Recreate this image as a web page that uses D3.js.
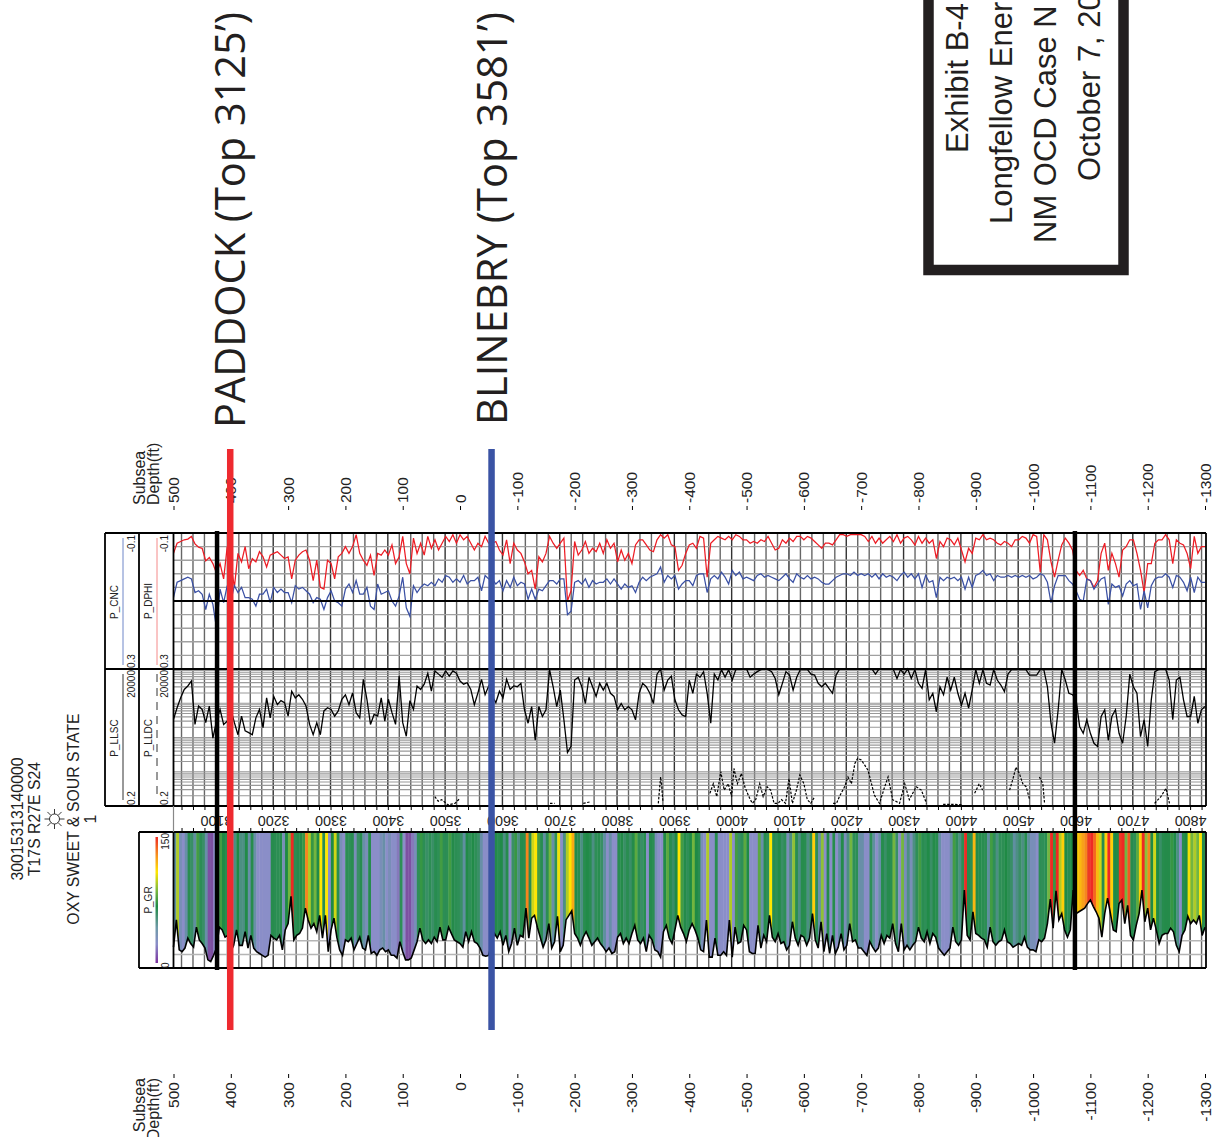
<!DOCTYPE html>
<html>
<head>
<meta charset="utf-8">
<script src="https://cdn.jsdelivr.net/npm/d3@7"></script>
<style>
body { margin: 0; background: #fff; }
text { font-family: "Liberation Sans", Arial, sans-serif; fill: #222; }
</style>
</head>
<body>
<div id="chart"></div>
<script>
// well datum and sampling of the curves, in feet
var kellyBushing = 3526;
var firstDepth = 3026;
var grStep = 5;
var logStep = 6.25;

var subseaTicks = [500, 400, 300, 200, 100, 0, -100, -200, -300, -400, -500, -600, -700, -800, -900, -1000, -1100, -1200, -1300];
var tops = [{ name: "PADDOCK (Top 3125’)", depth: 3125, color: "#ee2a2f" }, { name: "BLINEBRY (Top 3581’)", depth: 3581, color: "#3a53a4" }];
var wellMarkers = [3102, 4599];
var wellInfo = ["30015313140000", "T17S R27E S24", "OXY SWEET & SOUR STATE", "1"];
var exhibitLines = ["Exhibit B-4", "Longfellow Ener", "NM OCD Case N", "October 7, 20"];

var grValues = [
  23,53,20,18,22,33,27,23,45,31,27,22,9,7,14,22,45,42,34,36,
  18,25,42,25,25,40,22,36,22,18,16,14,12,14,36,33,31,36,20,42,
  49,79,31,36,38,44,66,53,44,49,40,58,33,58,18,42,55,34,20,14,
  31,29,33,20,27,34,22,20,36,16,18,14,20,22,18,20,14,14,11,29,
  18,9,9,11,20,29,44,31,27,31,27,34,29,45,31,31,45,38,31,29,
  27,23,40,29,40,29,27,22,14,13,14,27,38,33,40,25,36,18,27,44,
  25,36,34,66,33,55,58,45,34,23,31,49,22,29,57,18,25,53,58,63,
  38,33,25,34,40,33,25,29,33,27,23,18,22,16,18,34,38,27,33,27,
  38,47,31,27,33,18,36,31,20,18,12,40,47,33,27,42,58,45,38,29,
  42,49,42,33,20,18,53,12,12,33,14,14,18,14,53,12,45,27,29,47,
  42,18,16,16,47,22,36,29,58,34,29,38,27,29,20,25,51,33,25,36,
  34,25,33,60,31,22,51,18,38,16,36,16,23,38,20,25,49,29,31,22,
  22,18,14,29,23,18,22,36,27,36,33,49,27,18,49,20,25,20,25,29,
  45,33,29,40,27,38,34,22,18,14,18,22,45,29,25,31,86,36,31,62,
  38,36,33,31,23,45,29,25,29,31,42,29,27,23,25,27,25,34,23,20,
  20,18,31,29,33,49,76,44,85,53,60,42,34,42,86,60,62,64,66,71,
  75,68,62,55,34,60,77,60,42,40,71,75,49,69,36,31,47,60,86,51,
  66,42,55,42,27,36,38,38,44,40,25,18,36,42,57,49,53,49,58,36,45
];

var dphiValues = [
  -.04,-.07,-.075,-.08,-.082,-.09,-.068,-.058,-.055,-.018,-.028,-.01,.018,-.01,.035,-.06,
  -.01,.06,-.04,-.015,-.06,.005,-.025,-.015,-.045,-.03,0,-.035,-.04,-.045,-.035,-.025,
  -.03,.035,-.02,-.035,-.045,-.05,-.02,.04,-.02,.06,.065,-.02,-.01,.035,-.03,-.04,
  -.06,-.04,-.06,-.095,-.04,-.02,-.005,-.035,.025,-.04,-.035,-.05,-.035,-.065,-.01,-.03,
  -.09,-.01,.02,-.085,-.04,-.07,-.035,-.09,-.055,-.08,-.05,-.07,-.09,-.075,-.095,-.07,
  -.095,-.08,-.09,-.07,-.05,-.07,-.06,-.09,-.07,-.07,-.075,-.05,-.035,-.08,-.01,-.07,
  -.05,-.04,-.015,.02,.01,.065,-.03,-.015,-.04,-.09,-.07,-.055,-.07,-.085,.1,.07,
  -.075,-.035,-.05,-.075,-.04,-.055,-.045,-.07,-.04,-.08,-.055,-.07,-.015,-.05,-.02,-.04,
  -.01,-.065,-.08,-.08,-.065,-.05,-.045,-.08,-.095,-.085,-.095,-.065,-.06,.01,-.005,-.04,
  -.065,-.07,-.055,-.09,-.085,.03,-.07,-.08,-.09,-.085,-.08,-.09,-.08,-.095,-.09,-.08,
  -.08,-.07,-.075,-.07,-.08,-.075,-.09,-.07,-.05,-.055,-.08,-.07,-.085,-.075,-.09,-.09,
  -.08,-.09,-.085,-.075,-.065,-.055,-.07,-.07,-.065,-.08,-.095,-.095,-.09,-.095,-.095,-.095,
  -.095,-.09,-.075,-.09,-.07,-.085,-.07,-.08,-.09,-.075,-.095,-.07,-.085,-.09,-.08,-.065,
  -.09,-.07,-.085,-.07,-.08,-.025,-.075,-.06,-.085,-.08,-.065,-.085,-.05,-.015,-.055,-.04,
  -.085,-.08,-.095,-.08,-.085,-.08,-.07,-.065,-.075,-.07,-.06,-.08,-.08,-.09,-.085,-.07,
  -.095,-.09,.015,-.095,-.08,-.015,.03,-.02,-.065,-.085,-.07,-.05,.01,.025,.01,.035,
  .04,.06,.04,-.04,-.07,.01,-.04,-.01,.03,-.05,-.06,-.08,-.08,-.04,.01,.075,
  -.01,-.01,-.07,-.08,-.08,-.095,-.08,-.01,-.08,-.07,-.065,-.04,.005,-.09,-.04,-.06,-.06
];

var cncValues = [
  .09,.045,.04,.035,.03,.035,.075,.07,.08,.125,.08,.11,.18,.065,.105,.055,
  .1,.055,.075,.06,.09,.09,.095,.115,.08,.08,.065,.105,.06,.075,.065,.075,
  .075,.105,.055,.065,.06,.07,.08,.105,.09,.095,.125,.09,.07,.1,.105,.115,
  .065,.05,.075,.04,.08,.08,.06,.115,.125,.05,.08,.075,.07,.1,.115,.085,
  .03,.12,.145,.055,.075,.06,.05,.055,.045,.055,.035,.045,.025,.03,.045,.035,
  .045,.025,.05,.04,.04,.03,.07,.025,.035,.035,.05,.04,.07,.04,.06,.03,
  .055,.045,.05,.095,.065,.095,.065,.07,.055,.04,.04,.05,.035,.035,.14,.13,
  .045,.04,.05,.035,.06,.04,.05,.045,.045,.035,.05,.035,.05,.065,.05,.06,
  .055,.075,.045,.03,.04,.03,.025,.02,0,.045,.025,.035,.025,.065,.05,.04,
  .04,.055,.025,.02,.02,.075,.035,.025,.035,.015,.03,.05,.01,.025,.015,.035,
  .03,.035,.04,.025,.02,.03,.025,.03,.035,.04,.03,.02,.035,.045,.02,.03,
  .035,.025,.035,.03,.035,.045,.05,.05,.04,.03,.025,.02,.02,.025,.015,.025,
  .02,.025,.02,.03,.02,.035,.02,.03,.025,.03,.04,.025,.015,.03,.02,.035,
  .02,.06,.025,.045,.04,.09,.03,.04,.03,.035,.03,.04,.03,.065,.03,.06,
  .025,.02,.01,.025,.02,.04,.025,.03,.03,.025,.03,.025,.03,.025,.03,.025,
  .035,.03,.02,.025,.045,.105,.055,.025,.025,.025,.04,.05,.07,.095,.1,.035,
  .04,.065,.05,.035,.03,.11,.05,.06,.055,.085,.05,.04,.055,.05,.125,.07,
  .12,.055,.035,.03,.03,.02,.03,.06,.025,.03,.045,.07,.03,.075,.03,.045,.045
];

var llsValues = [
  290,770,1770,3600,4800,7300,190,890,670,220,890,60,250,670,190,250,
  670,220,80,380,110,95,80,330,670,145,1770,330,2000,1000,1400,1180,
  380,3100,1770,2300,1570,890,190,80,220,80,590,770,670,380,590,1570,
  2300,1000,2700,510,330,8400,1570,190,440,380,1770,250,1570,510,190,11000,
  220,70,1400,670,4800,3600,5600,14000,3100,17000,13000,10000,17000,11000,17000,14000,
  7300,5600,6300,3600,1000,2700,8400,2300,4800,2000,1180,3100,1770,8400,3600,4800,
  4500,6000,650,210,850,50,850,370,650,19000,4500,850,3400,280,18,30,
  7900,10000,4500,1100,10000,4500,2000,6000,3400,6000,2600,2000,650,1100,650,850,
  650,280,2600,6000,4500,2600,1100,13000,20000,3400,7900,11000,1500,650,420,370,
  7900,2600,13000,10000,16000,2600,210,13000,7900,19000,10000,19000,7900,19000,20000,20000,
  20000,10000,13000,16000,19000,20000,19000,16000,9000,2300,6000,16000,12000,3400,10000,19000,
  19000,19000,13000,12000,6000,4500,6000,3900,2600,12000,20000,20000,20000,20000,20000,20000,
  20000,20000,20000,20000,13000,20000,20000,20000,20000,19000,9000,19000,13000,20000,9000,19000,
  6000,3900,19000,1500,2600,550,4500,2300,10000,3400,10000,2600,950,2600,750,3400,
  19000,6000,19000,6000,5200,19000,7900,5200,3000,13000,19000,19000,19000,19000,19000,12000,
  12000,12000,19000,19000,4500,210,39,650,19000,7900,2600,2300,1500,160,90,280,
  90,39,30,370,650,50,370,650,90,39,370,13000,4500,2600,68,280,
  30,1500,16000,19000,20000,20000,7900,280,7900,10000,1500,370,370,2000,210,650,850
];

// the deep curve is mostly off scale, 0 marks a gap between the stretches that show
var lldDepths = [3482,3488,3494,3505,3517,3526,3530,3683,3691,3695,3741,3752,3756,3872,3876,3878,3880,3884,3927,3930,
  3962,3968,3974,3981,3987,3994,4000,4004,4010,4017,4023,4030,4036,4042,4049,4055,4062,4068,4074,4081,4087,4094,4100,4106,4113,4119,4126,4132,4138,4145,4150,
  4171,4174,4177,4183,4188,4197,4203,4209,4215,4220,4226,4232,4238,4244,4249,4258,4267,4273,4281,4293,4302,4310,4322,4331,4340,4345,
  4369,4386,4403,4410,4424,4432,4438,4442,4462,4465,4485,4491,4496,4502,4508,4514,4520,4525,4537,4543,4546,4550,4578,4582,4697,4700,4738,4749,4758,4764];
var lldValues = [.44,.3,.34,.22,.25,.38,0,.25,.25,0,.25,.28,0,.25,2.3,1,.3,0,.34,0,
  .58,1.3,.44,3.6,.76,1.3,.44,4.7,1.3,3.1,1,.44,.25,.34,1.3,.44,1,.76,.25,.25,.34,.25,2,.25,.76,2.7,1.3,.34,.25,.44,0,
  .65,0,.25,.25,.44,1,2.3,1.3,7.2,11,9.6,6.3,4,1.3,.5,.25,1,2.3,.34,.25,1.3,.34,1,.76,.25,0,
  .23,.23,.22,0,.58,1.3,.76,0,.34,0,.76,2,5.2,3.1,1.3,1,.34,0,2.3,1.3,.25,0,.34,0,.34,0,.25,.44,.88,.25];

var width = 1212, height = 1137;
var plotLeft = 173.5, plotRight = 1205, frameRight = 1206;

var svg = d3.select("#chart").append("svg")
    .attr("width", width)
    .attr("height", height)
    .style("display", "block");

var xSubsea = d3.scaleLinear().domain([500, -1300]).range([plotLeft, plotRight]);
var xDepth = d3.scaleLinear().domain([kellyBushing - 500, kellyBushing + 1300]).range([plotLeft, plotRight]);

var yPoro = d3.scaleLinear().domain([-0.1, 0.3]).range([533, 669]);
var yRes = d3.scaleLog().domain([0.2, 20000]).range([806, 669]);
var yResGrid = d3.scaleLog().domain([1, 10000]).range([806, 669]);
var yGr = d3.scaleLinear().domain([0, 150]).range([968, 832]);

var grColor = d3.scaleLinear()
    .domain([0, 9, 12, 18, 23, 28, 42, 50, 58, 65, 72])
    .range(["#7a4a9e", "#7d50a2", "#8a8ec8", "#8a8ec8", "#5f8fa0", "#2f8f58", "#1f8a45", "#7fbb3f", "#ffe600", "#f7941d", "#ee2a24"])
    .clamp(true);

var gridDepths = d3.range(3040, 4830, 20);

// vertical depth grid
function depthGrid(y1, y2) {
    svg.append("g").selectAll("line")
        .data(gridDepths)
        .enter()
        .append("line")
        .attr("x1", d => xDepth(d))
        .attr("x2", d => xDepth(d))
        .attr("y1", y1)
        .attr("y2", y2)
        .attr("stroke", d => d % 100 == 0 ? "#333" : "#666")
        .attr("stroke-width", 1.4);
}
depthGrid(533, 806);
depthGrid(832, 968);

// porosity track grid
svg.append("g").selectAll("line")
    .data(d3.range(-0.06, 0.29, 0.04))
    .enter()
    .append("line")
    .attr("x1", plotLeft)
    .attr("x2", frameRight)
    .attr("y1", d => yPoro(d))
    .attr("y2", d => yPoro(d))
    .attr("stroke", "#a0a0a0")
    .attr("stroke-width", 1.4);

// resistivity track grid, four log cycles
var logLines = [];
[1, 10, 100, 1000].forEach(function(p) {
    d3.range(1, 10).forEach(function(n) { logLines.push(n * p); });
});
svg.append("g").selectAll("line")
    .data(logLines)
    .enter()
    .append("line")
    .attr("x1", plotLeft)
    .attr("x2", frameRight)
    .attr("y1", d => yResGrid(d))
    .attr("y2", d => yResGrid(d))
    .attr("stroke", "#999")
    .attr("stroke-width", 1.1);

// gamma ray track grid
svg.append("g").selectAll("line")
    .data([13.6, 27.2])
    .enter()
    .append("line")
    .attr("x1", plotLeft)
    .attr("x2", frameRight)
    .attr("y1", d => 968 - d)
    .attr("y2", d => 968 - d)
    .attr("stroke", "#b5b5b5")
    .attr("stroke-width", 1.5);

// gamma ray fill, colored strips clipped to the curve
var grRows = grValues.map((v, i) => ({ depth: firstDepth + i * grStep, v: v }));
var grArea = d3.area()
    .x(d => xDepth(d.depth))
    .y0(832)
    .y1(d => yGr(d.v));
svg.append("clipPath")
    .attr("id", "gr-clip")
    .append("path")
    .attr("d", grArea(grRows));
svg.append("g")
    .attr("clip-path", "url(#gr-clip)")
    .selectAll("rect")
    .data(grRows)
    .enter()
    .append("rect")
    .attr("x", d => xDepth(d.depth) - 0.2)
    .attr("y", 832)
    .attr("width", xDepth(firstDepth + grStep) - xDepth(firstDepth) + 0.4)
    .attr("height", 136)
    .attr("fill", d => grColor(d.v));

function curvePath(rows, xf, yf, color, w) {
    return svg.append("path")
        .datum(rows)
        .attr("fill", "none")
        .attr("stroke", color)
        .attr("stroke-width", w)
        .attr("d", d3.line().x(d => xf(d.depth)).y(d => yf(d.v)).defined(d => d.v > 0));
}

function logRows(values) {
    return values.map((v, i) => ({ depth: firstDepth + i * logStep, v: v }));
}

svg.append("path")
    .datum(logRows(dphiValues))
    .attr("fill", "none")
    .attr("stroke", "#ed1c24")
    .attr("stroke-width", 1.25)
    .attr("d", d3.line().x(d => xDepth(d.depth)).y(d => yPoro(d.v)));
svg.append("path")
    .datum(logRows(cncValues))
    .attr("fill", "none")
    .attr("stroke", "#3a50a4")
    .attr("stroke-width", 1.25)
    .attr("d", d3.line().x(d => xDepth(d.depth)).y(d => yPoro(d.v)));
curvePath(logRows(llsValues), xDepth, yRes, "#000", 1.3);
curvePath(lldDepths.map((d, i) => ({ depth: d, v: lldValues[i] })), xDepth, yRes, "#000", 1.2)
    .attr("stroke-dasharray", "2.5,1.5");
curvePath(grRows, xDepth, yGr, "#000", 1.6);

// frames
var frameLines = [
    [105, 533, frameRight, 533], [105, 669, frameRight, 669], [105, 806, frameRight, 806],
    [plotLeft, 601, frameRight, 601], [139, 832, frameRight, 832], [139, 968, frameRight, 968],
    [105, 533, 105, 806], [139, 533, 139, 806], [plotLeft, 533, plotLeft, 806],
    [139, 832, 139, 968], [plotLeft, 832, plotLeft, 968], [frameRight, 533, frameRight, 806], [frameRight, 832, frameRight, 968]
];
svg.append("g").selectAll("line")
    .data(frameLines)
    .enter()
    .append("line")
    .attr("x1", d => d[0])
    .attr("y1", d => d[1])
    .attr("x2", d => d[2])
    .attr("y2", d => d[3])
    .attr("stroke", "#000")
    .attr("stroke-width", 1.8);
svg.append("line")
    .attr("x1", plotLeft).attr("x2", plotLeft)
    .attr("y1", 806).attr("y2", 832)
    .attr("stroke", "#888").attr("stroke-width", 1.2);

// measured depth band, labels upside down like the source print
var depthAxis = d3.axisBottom(xDepth)
    .tickValues(gridDepths)
    .tickSize(4)
    .tickFormat(d => d % 100 == 0 ? d : "");
var depthG = svg.append("g")
    .attr("transform", "translate(0,806)")
    .call(depthAxis);
depthG.select(".domain").remove();
depthG.selectAll("text")
    .attr("transform", "rotate(180)")
    .attr("y", -10)
    .attr("dy", 0)
    .attr("text-anchor", "middle")
    .style("font-size", "14.3px")
    .style("font-family", "'Liberation Sans'");
var depthTicksUp = svg.append("g")
    .attr("transform", "translate(0,832)")
    .call(d3.axisTop(xDepth).tickValues(gridDepths).tickSize(4).tickFormat(""));
depthTicksUp.select(".domain").remove();

// subsea axes, top and bottom
var topAxis = svg.append("g")
    .attr("transform", "translate(0,510)")
    .call(d3.axisTop(xSubsea).tickValues(subseaTicks).tickSize(4).tickFormat(d => d));
topAxis.select(".domain").remove();
topAxis.selectAll("text")
    .attr("transform", "rotate(-90)")
    .attr("x", 7)
    .attr("y", 5)
    .attr("dy", 0)
    .attr("text-anchor", "start")
    .style("font-size", "15.5px")
    .style("font-family", "'Liberation Sans'");

var bottomAxis = svg.append("g")
    .attr("transform", "translate(0,1074)")
    .call(d3.axisBottom(xSubsea).tickValues(subseaTicks).tickSize(4).tickFormat(d => d));
bottomAxis.select(".domain").remove();
bottomAxis.selectAll("text")
    .attr("transform", "rotate(-90)")
    .attr("x", -8)
    .attr("y", 5)
    .attr("dy", 0)
    .attr("text-anchor", "end")
    .style("font-size", "15.5px")
    .style("font-family", "'Liberation Sans'");

function upText(x, y, str, size, anchor, color) {
    return svg.append("text")
        .attr("transform", `translate(${x},${y}) rotate(-90)`)
        .attr("text-anchor", anchor || "start")
        .style("font-size", size + "px")
        .style("fill", color || "#222")
        .text(str);
}

upText(145, 505, "Subsea", 16);
upText(159, 505, "Depth(ft)", 16);
upText(145, 1078, "Subsea", 16, "end");
upText(159, 1078, "Depth(ft)", 16, "end");

// track header labels
upText(118, 602, "P_CNC", 10, "middle");
upText(152, 601, "P_DPHI", 10, "middle");
upText(118, 738, "P_LLSC", 10, "middle");
upText(152, 738, "P_LLDC", 10, "middle");
upText(152, 900, "P_GR", 10, "middle");
upText(135, 535, "-0.1", 10, "end");
upText(168, 535, "-0.1", 10, "end");
upText(135, 668, "0.3", 10);
upText(168, 668, "0.3", 10);
upText(135, 670, "20000", 10, "end");
upText(168, 670, "20000", 10, "end");
upText(135, 805, "0.2", 10);
upText(168, 805, "0.2", 10);
upText(169, 833, "150", 10, "end");
upText(169, 968, "0", 10);

var headerKeys = [
    { x: 123, y1: 538, y2: 665, color: "#6f86c8" },
    { x: 157, y1: 538, y2: 665, color: "#f48a8a" },
    { x: 123, y1: 674, y2: 800, color: "#333" },
    { x: 157, y1: 674, y2: 800, color: "#333", dash: "8,6" }
];
svg.append("g").selectAll("line")
    .data(headerKeys)
    .enter()
    .append("line")
    .attr("x1", d => d.x)
    .attr("x2", d => d.x)
    .attr("y1", d => d.y1)
    .attr("y2", d => d.y2)
    .attr("stroke", d => d.color)
    .attr("stroke-width", 1)
    .attr("stroke-dasharray", d => d.dash || null);

// gamma ray color key
var legendStops = [[0, "#ee2a24"], [0.15, "#f7941d"], [0.28, "#ffe600"], [0.42, "#7fbb3f"], [0.55, "#1f8a45"], [0.72, "#6f9aa8"], [0.85, "#8a8ec8"], [1, "#7a2f9e"]];
var grad = svg.append("defs").append("linearGradient")
    .attr("id", "gr-key")
    .attr("x1", 0).attr("x2", 0).attr("y1", 0).attr("y2", 1);
grad.selectAll("stop")
    .data(legendStops)
    .enter()
    .append("stop")
    .attr("offset", d => d[0])
    .attr("stop-color", d => d[1]);
svg.append("rect")
    .attr("x", 155.5).attr("y", 837)
    .attr("width", 2.5).attr("height", 126)
    .attr("fill", "url(#gr-key)");

// well header text
upText(23, 819, wellInfo[0], 15.8, "middle");
upText(40, 819, wellInfo[1], 15.8, "middle");
upText(79, 819, wellInfo[2], 15.8, "middle");
upText(96, 819, wellInfo[3], 15.8, "middle");

// oil and gas well symbol
var sun = svg.append("g").attr("transform", "translate(54.5,819)");
sun.append("circle").attr("r", 5).attr("fill", "none").attr("stroke", "#222").attr("stroke-width", 0.9);
sun.selectAll("line")
    .data(d3.range(8))
    .enter()
    .append("line")
    .attr("x1", d => 5 * Math.cos(d * Math.PI / 4))
    .attr("y1", d => 5 * Math.sin(d * Math.PI / 4))
    .attr("x2", d => 10 * Math.cos(d * Math.PI / 4))
    .attr("y2", d => 10 * Math.sin(d * Math.PI / 4))
    .attr("stroke", "#222")
    .attr("stroke-width", 0.9);

// well markers and formation tops sit over everything
svg.append("g").selectAll("line")
    .data(wellMarkers)
    .enter()
    .append("line")
    .attr("x1", d => xDepth(d))
    .attr("x2", d => xDepth(d))
    .attr("y1", 531)
    .attr("y2", 970)
    .attr("stroke", "#000")
    .attr("stroke-width", 4.5);

svg.append("g").selectAll("line")
    .data(tops)
    .enter()
    .append("line")
    .attr("x1", d => xDepth(d.depth))
    .attr("x2", d => xDepth(d.depth))
    .attr("y1", 449)
    .attr("y2", 1030)
    .attr("stroke", d => d.color)
    .attr("stroke-width", 6.5);

var topTextEnds = [428, 425];
var topTextLengths = [416, 413];
tops.forEach(function(t, i) {
    svg.append("text")
        .attr("transform", `translate(${xDepth(t.depth) + 15},${topTextEnds[i]}) rotate(-90)`)
        .attr("textLength", topTextLengths[i])
        .attr("lengthAdjust", "spacingAndGlyphs")
        .style("font-family", "'Open Sans'")
        .style("font-size", "42px")
        .style("fill", "#231f20")
        .text(t.name);
});

// exhibit stamp, cut off by the page edge as in the source
svg.append("rect")
    .attr("x", 928.5)
    .attr("y", -20)
    .attr("width", 195)
    .attr("height", 290)
    .attr("fill", "none")
    .attr("stroke", "#231f20")
    .attr("stroke-width", 10.5);
var exhibitPos = [[968, 153], [1012, 224], [1056, 243], [1100, 181]];
exhibitLines.forEach(function(line, i) {
    upText(exhibitPos[i][0], exhibitPos[i][1], line, 31, "start", "#231f20");
});
</script>
</body>
</html>
